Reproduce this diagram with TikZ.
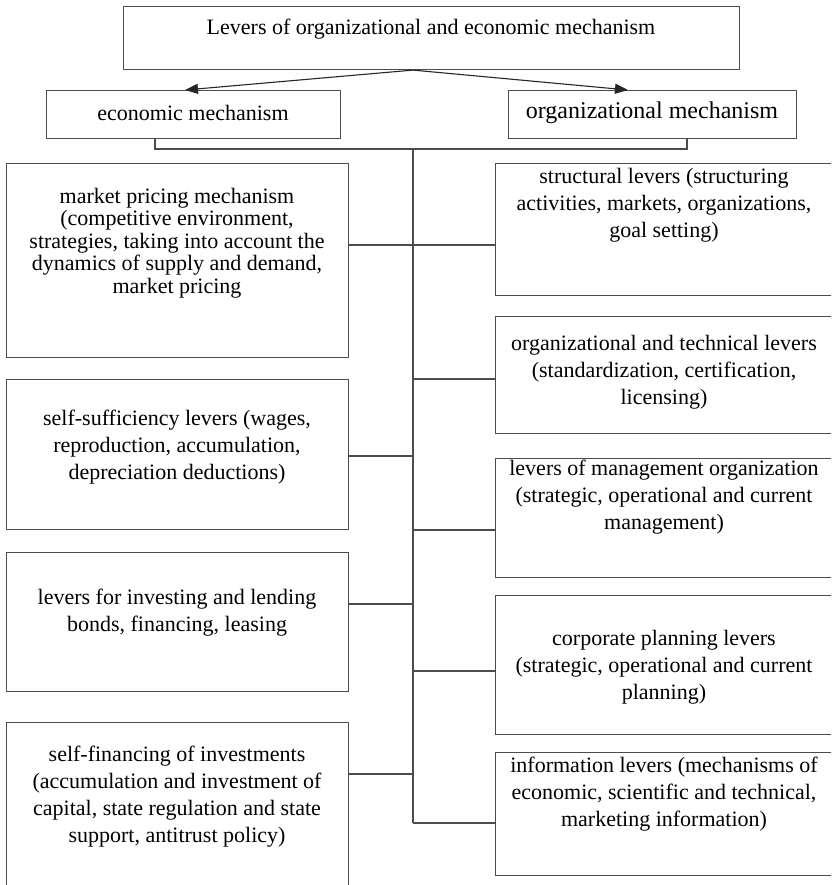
\documentclass[tikz,border=0pt]{standalone}
\usepackage{fontspec}
\setmainfont{Liberation Serif}
\newfontfamily\tnr{Liberation Serif}
\usetikzlibrary{arrows.meta,calc}
\begin{document}
\begin{tikzpicture}[x=1pt,y=-1pt,
  box/.style={draw=black!70,line width=1.1pt,rectangle,inner sep=0pt,anchor=north west},
  txt/.style={align=center,inner sep=0pt,font=\tnr\fontsize{22}{27}\selectfont,text=black},
  wire/.style={draw=black!70,line width=1.1pt},
  arr/.style={draw=black!85,line width=1.1pt,-{Triangle[length=13pt,width=10pt]}}]
\useasboundingbox (0,0) rectangle (831,885);
\clip (0,0) rectangle (831,885);
% boxes
\node[box,minimum width=616pt,minimum height=63pt] (TB) at (123,6) {};
\node[box,minimum width=294pt,minimum height=48pt] (EM) at (46,90) {};
\node[box,minimum width=288pt,minimum height=48pt] (OM) at (508,90) {};
\node[box,minimum width=342pt,minimum height=194pt] (L1) at (6,163) {};
\node[box,minimum width=342pt,minimum height=150pt] (L2) at (6,379) {};
\node[box,minimum width=342pt,minimum height=139pt] (L3) at (6,552) {};
\node[box,minimum width=342pt,minimum height=200pt] (L4) at (6,722) {};
\node[box,minimum width=350pt,minimum height=132pt] (R1) at (495,163) {};
\node[box,minimum width=350pt,minimum height=117pt] (R2) at (495,316) {};
\node[box,minimum width=350pt,minimum height=119pt] (R3) at (495,458) {};
\node[box,minimum width=350pt,minimum height=139pt] (R4) at (495,595) {};
\node[box,minimum width=350pt,minimum height=123pt] (R5) at (495,752) {};
% texts
\node[txt] (tT) at (431,29) {Levers of organizational and economic mechanism};
\node[txt] (tEM) at (193,113) {economic mechanism};
\node[txt,font=\tnr\fontsize{24}{28}\selectfont] (tOM) at (652,113) {organizational mechanism};
\node[txt,font=\tnr\fontsize{22}{22.5}\selectfont] (tL1) at (177,243) {market pricing mechanism\\(competitive environment,\\strategies, taking into account the\\dynamics of supply and demand,\\market pricing};
\node[txt] (tL2) at (177,447) {self-sufficiency levers (wages,\\reproduction, accumulation,\\depreciation deductions)};
\node[txt] (tL3) at (177,613) {levers for investing and lending\\bonds, financing, leasing};
\node[txt] (tL4) at (177,797) {self-financing of investments\\(accumulation and investment of\\capital, state regulation and state\\support, antitrust policy)};
\node[txt] (tR1) at (664,205) {structural levers (structuring\\activities, markets, organizations,\\goal setting)};
\node[txt] (tR2) at (664,372) {organizational and technical levers\\(standardization, certification,\\licensing)};
\node[txt] (tR3) at (664,497) {levers of management organization\\(strategic, operational and current\\management)};
\node[txt] (tR4) at (664,667) {corporate planning levers\\(strategic, operational and current\\planning)};
\node[txt] (tR5) at (664,794) {information levers (mechanisms of\\economic, scientific and technical,\\marketing information)};
% coordinates
\coordinate (aL) at (185,0);
\coordinate (aR) at (628,0);
\coordinate (eL) at (155,149);
\coordinate (eR) at (687,149);
\coordinate (s0) at (413,149);
\coordinate (s1) at (413,823);
\coordinate (j1) at (413,245);
\coordinate (jl2) at (413,456);
\coordinate (jl3) at (413,604);
\coordinate (jl4) at (413,774);
\coordinate (jr2) at (413,379);
\coordinate (jr3) at (413,530);
\coordinate (jr4) at (413,671);
% arrows
\draw[arr] (TB.south -| s0) -- (EM.north -| aL);
\draw[arr] (TB.south -| s0) -- (OM.north -| aR);
% connectors
\draw[wire] (EM.south -| eL) -- (eL) -- (eR) -- (OM.south -| eR);
\draw[wire] (s0) -- (s1);
\draw[wire] (L1.east |- j1) -- (R1.west |- j1);
\draw[wire] (L2.east |- jl2) -- (jl2);
\draw[wire] (L3.east |- jl3) -- (jl3);
\draw[wire] (L4.east |- jl4) -- (jl4);
\draw[wire] (jr2) -- (R2.west |- jr2);
\draw[wire] (jr3) -- (R3.west |- jr3);
\draw[wire] (jr4) -- (R4.west |- jr4);
\draw[wire] (s1) -- (R5.west |- s1);
\end{tikzpicture}
\end{document}
